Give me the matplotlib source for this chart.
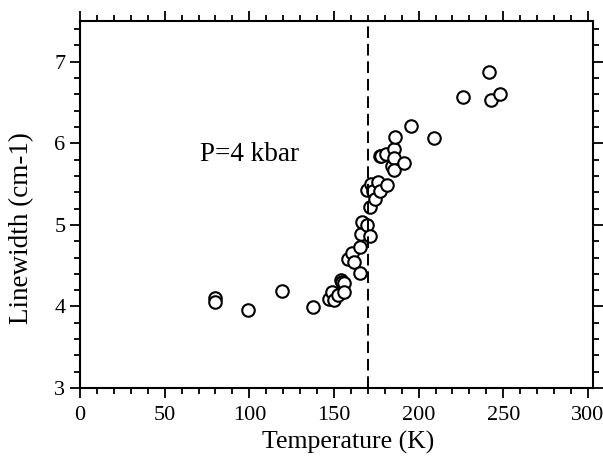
import matplotlib
matplotlib.use("Agg")
import matplotlib.pyplot as plt
from matplotlib.ticker import MultipleLocator

plt.rcParams['font.family'] = ['Liberation Serif', 'DejaVu Serif']

temperature = [80, 80, 99.5, 119.5, 137.5, 147, 148.6, 150, 152.5, 153.9, 154.5, 155.9, 155.9,
               158.4, 160.4, 161.8, 165.1, 165.1, 165.7, 166.7, 169.6, 169.6, 171, 171, 171.6,
               173, 174.5, 176, 177, 177, 177.8, 180.8, 181.4, 184, 185.3, 185.3, 185.3, 186.3,
               191.6, 195.7, 208.8, 226.5, 241.6, 242.7, 248]
linewidth = [4.10, 4.06, 3.96, 4.19, 3.99, 4.09, 4.18, 4.08, 4.14, 4.33, 4.30, 4.29, 4.18,
             4.58, 4.65, 4.55, 4.73, 4.41, 4.89, 5.03, 5.00, 5.43, 4.86, 5.22, 5.50,
             5.42, 5.32, 5.52, 5.42, 5.85, 5.84, 5.87, 5.49, 5.72, 5.93, 5.82, 5.67, 6.08,
             5.76, 6.21, 6.06, 6.57, 6.87, 6.53, 6.60]
transition_T = 170
annotation = "P=4 kbar"

fig = plt.figure(figsize=(6.03, 4.62), dpi=100)
ax = fig.add_axes([80/603, (462-388)/462, (593-80)/603, (388-21)/462])

ax.plot(temperature, linewidth, linestyle='none', marker='o', markersize=9,
        markerfacecolor='white', markeredgecolor='black', markeredgewidth=1.5)
ax.axvline(transition_T, color='black', linestyle=(0, (6, 3)), linewidth=1.4)

ax.set_xlim(0, 303)
ax.set_ylim(3, 7.5)
ax.xaxis.set_major_locator(MultipleLocator(50))
ax.xaxis.set_minor_locator(MultipleLocator(10))
ax.yaxis.set_major_locator(MultipleLocator(1))
ax.yaxis.set_minor_locator(MultipleLocator(0.2))
ax.tick_params(which='both', direction='out', top=True, right=True, width=1.3,
               labelsize=16, labeltop=False, labelright=False)
ax.tick_params(which='major', length=7)
ax.tick_params(axis='x', which='major', pad=6)
ax.tick_params(which='minor', length=4)
for s in ax.spines.values():
    s.set_linewidth(1.5)

ax.text(71, 5.86, annotation, fontsize=19.5, va='center', ha='left')
ax.set_xlabel("Temperature (K)", fontsize=18.5)
ax.xaxis.set_label_coords(0.522, -0.118)
ax.set_ylabel("Linewidth (cm-1)", fontsize=19.5)
ax.yaxis.set_label_coords(-0.113, 0.436)
ax.yaxis.label.set_va('center')
ax.xaxis.label.set_va('top')

fig.savefig("out.png", dpi=100)
